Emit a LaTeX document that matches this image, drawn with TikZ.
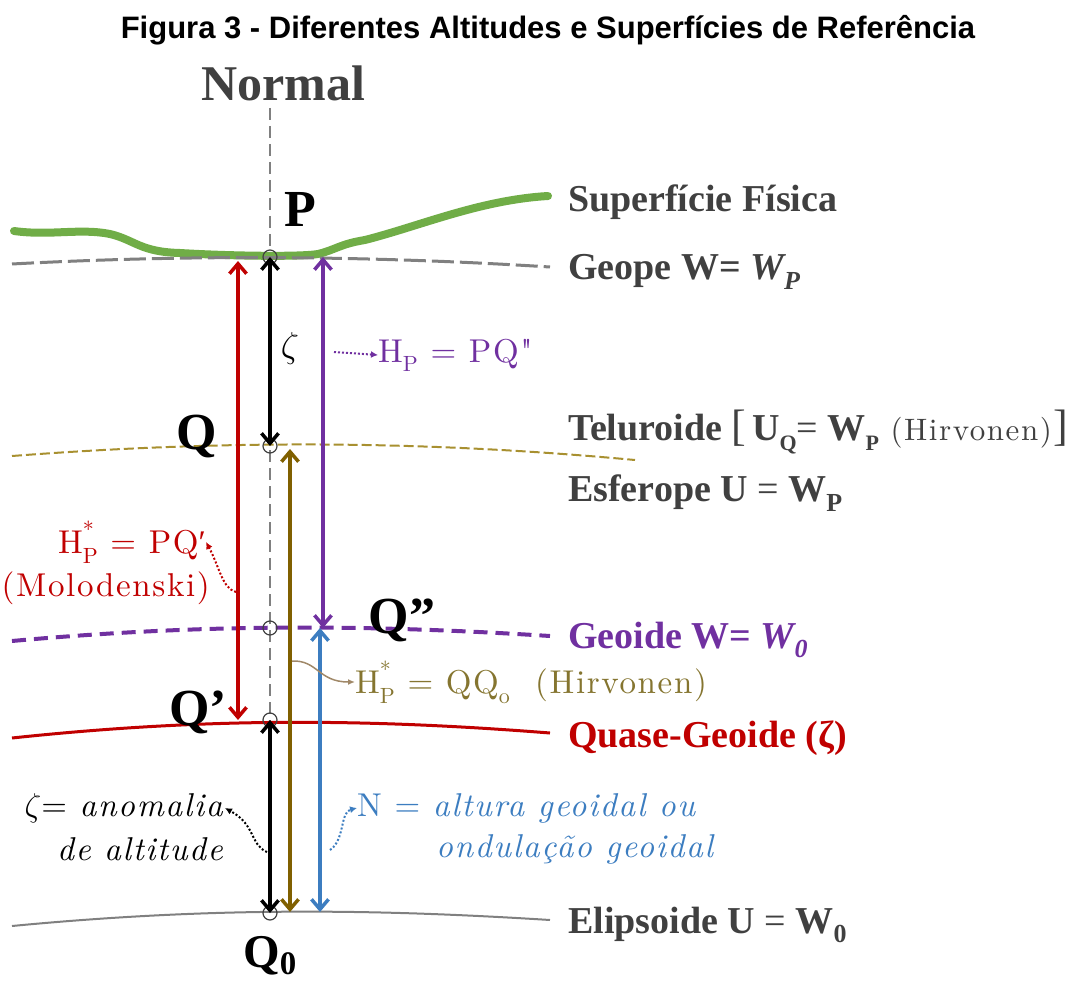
\documentclass[tikz,border=0pt]{standalone}
\usepackage{fix-cm}
\usepackage{fontspec}
\newfontfamily\tnr{Liberation Serif}
\newfontfamily\ars{Liberation Sans}
\newfontfamily\cam{lmroman10-regular.otf}[ItalicFont=lmroman10-italic.otf,LetterSpace=5]
\usetikzlibrary{arrows.meta}
\definecolor{cgreen}{HTML}{70AD47}
\definecolor{cgrey}{HTML}{808080}
\definecolor{ctext}{HTML}{404040}
\definecolor{cred}{HTML}{C00000}
\definecolor{cpurple}{HTML}{7030A0}
\definecolor{colive}{HTML}{806000}
\definecolor{ctel}{HTML}{A89030}
\definecolor{colivetxt}{HTML}{857530}
\definecolor{cblue}{HTML}{3C7DC0}
\definecolor{ccurve}{HTML}{A08868}
\newcommand{\sbs}[1]{\raisebox{-0.25em}{\fontsize{26}{28}\selectfont #1}}
\newcommand{\dsub}[1]{\raisebox{-0.28em}{\fontsize{22}{24}\selectfont #1}}
\newcommand{\hstar}{H\rlap{\raisebox{0.5em}{\fontsize{22}{24}\selectfont *}}\dsub{P}}
\begin{document}
\begin{tikzpicture}[x=1pt,y=-1pt,
  lab/.style={anchor=west,inner sep=0pt,font=\tnr\bfseries\fontsize{38}{40}\selectfont,text=ctext},
  ptlab/.style={inner sep=0pt,font=\tnr\bfseries\fontsize{52}{54}\selectfont,text=black},
  mtxt/.style={inner sep=0pt,font=\cam\fontsize{33}{38}\selectfont},
  pt/.style={circle,draw=ctext,line width=1.2pt,minimum size=14pt,inner sep=0pt},
  darr/.style={line width=3.5pt,{Straight Barb[length=10pt,width=17pt]}-{Straight Barb[length=10pt,width=17pt]}},
  callout/.style={line width=2pt,dotted,-{Latex[length=7pt,width=7pt]}}
]
\useasboundingbox (0,0) rectangle (1070,981);

% title
\node[inner sep=0pt,font=\ars\bfseries\fontsize{31}{34}\selectfont] (title) at (548,30) {Figura 3 - Diferentes Altitudes e Superfícies de Referência};
\node[inner sep=0pt,font=\tnr\bfseries\fontsize{50}{52}\selectfont,text=ctext] (normal) at (283,83) {Normal};

% surfaces
\draw[cgrey,line width=2pt,dash pattern=on 12pt off 6pt] (270,108) -- (270,915);
\draw[cgreen,line width=8pt,line join=round,line cap=round]
  (14,231) .. controls (50,236) and (80,228) .. (110,234)
  .. controls (135,240) and (140,252) .. (180,253)
  .. controls (230,256) and (300,257) .. (318,254)
  .. controls (335,250) and (340,244) .. (365,240)
  .. controls (420,226) and (480,200) .. (548,196);
\draw[cgrey,line width=3pt,dash pattern=on 22pt off 6pt] (12,264) .. controls (180,255) and (360,255) .. (550,267);
\draw[ctel,line width=2pt,dash pattern=on 10pt off 4pt] (12,456) .. controls (220,440) and (420,440) .. (635,460);
\draw[cpurple,line width=4pt,dash pattern=on 14pt off 8pt] (12,641) .. controls (200,624) and (360,624) .. (550,636);
\draw[cred,line width=3pt] (12,738) .. controls (200,718) and (360,718) .. (550,733);
\draw[cgrey,line width=2pt] (12,926) .. controls (200,908) and (360,908) .. (550,920);

% points
\node[pt] (P0) at (270,257) {};
\node[pt] (Qc) at (270,446) {};
\node[pt] (Gc) at (270,628) {};
\node[pt] (Qpc) at (270,720) {};
\node[pt] (Q0c) at (270,913) {};

% vertical arrows
\coordinate (rT) at (238,261); \coordinate (rB) at (238,720);
\coordinate (pT) at (323,257); \coordinate (pB) at (323,628);
\coordinate (oT) at (290,449); \coordinate (oB) at (290,912);
\coordinate (bT) at (320,628); \coordinate (bB) at (320,912);
\draw[darr,cred] (rT) -- (rB);
\draw[darr,black] (P0.center) -- (Qc.center);
\draw[darr,cpurple] (pT) -- (pB);
\draw[darr,colive] (oT) -- (oB);
\draw[darr,cblue] (bT) -- (bB);
\draw[darr,black] (Qpc.center) -- (Q0c.center);

% point labels
\node[ptlab] (Plab) at (300,209) {P};
\node[ptlab] (Qlab) at (197,436) {Q};
\node[ptlab] (Qpplab) at (402,620) {Q”};
\node[ptlab] (Qplab) at (198,712) {Q’};
\node[ptlab,font=\tnr\bfseries\fontsize{47}{48}\selectfont] (Q0lab) at (270,956) {Q\textsubscript{0}};

% zeta
\node[inner sep=0pt,font=\fontsize{36}{38}\selectfont] (zeta) at (290,348) {$\zeta$};

% right labels
\node[lab] (sf) at (568,202) {Superfície Física};
\node[lab] (ge) at (568,272) {Geope W= \textit{W\sbs{P}}};
\node[lab] (te) at (568,432) {Teluroide \textmd{\fontsize{44}{44}\selectfont[}\hspace{0.15em}U\dsub{Q}\textmd{=} W\dsub{P}\hspace{0.3em}\textmd{\cam\fontsize{31}{34}\selectfont (Hirvonen)}\textmd{\fontsize{44}{44}\selectfont]}};
\node[lab] (es) at (568,493) {Esferope U \textmd{=} W\sbs{P}};
\node[lab,text=cpurple] (gd) at (568,640) {Geoide W= \textit{W\sbs{0}}};
\node[lab,text=cred] (qg) at (568,738) {Quase-Geoide (ζ)};
\node[lab] (el) at (568,925) {Elipsoide U \textmd{=} W\sbs{0}};

% annotation labels
\node[mtxt,anchor=west,text=cpurple] (hp) at (378,355) {H\dsub{P} = PQ"};
\node[mtxt,anchor=east,text=cred] (hs1) at (206,542) {\hstar\ = PQ{\tnr ′}};
\node[mtxt,anchor=east,text=cred] (hs2) at (210,588) {(Molodenski)};
\node[mtxt,anchor=west,text=colivetxt] (hh) at (355,682) {\hstar\ = QQ\dsub{o}\ \ (Hirvonen)};
\node[mtxt,anchor=east,text=black] (za1) at (225,808) {$\zeta$= \textit{anomalia}};
\node[mtxt,anchor=east,text=black] (za2) at (225,849) {\textit{de altitude}};
\node[mtxt,anchor=west,text=cblue] (n1) at (357,808) {N = \textit{altura geoidal ou}};
\node[mtxt,anchor=west,text=cblue] (n2) at (436,849) {\textit{ondulação geoidal}};

% callouts
\coordinate (c1) at (334,352);
\draw[callout,cpurple] (c1) -- (hp.west);
\coordinate (c2) at (236,592);
\draw[callout,cred] (c2) .. controls (222,588) and (220,568) .. (hs1.east);
\coordinate (c3) at (292,661);
\draw[ccurve,line width=1.5pt,-{Latex[length=7pt,width=6pt]}] (c3) .. controls (318,660) and (318,682) .. (hh.west);
\coordinate (c4) at (267,852);
\draw[callout,black] (c4) .. controls (250,845) and (256,825) .. (za1.east);
\coordinate (c5) at (330,850);
\draw[callout,cblue] (c5) .. controls (345,840) and (340,812) .. (n1.west);
\end{tikzpicture}
\end{document}
